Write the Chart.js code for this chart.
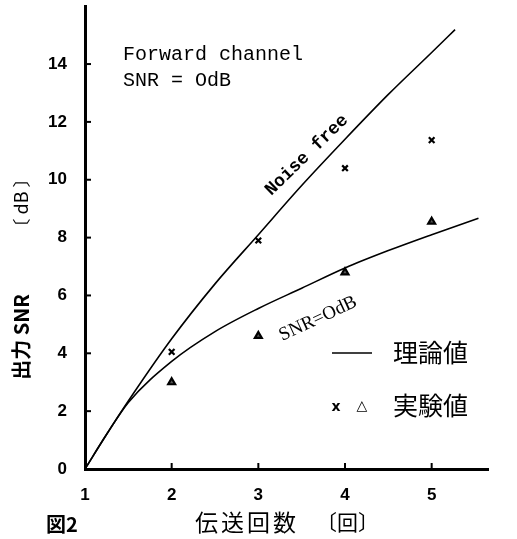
<!DOCTYPE html>
<html lang="ja">
<head>
<meta charset="UTF-8">
<title>出力 SNR vs 伝送回数</title>
<script src="https://cdn.jsdelivr.net/npm/chart.js"></script>
<style>
    * { margin: 0; padding: 0; box-sizing: border-box; }
    body { background: #fff; width: 517px; height: 539px; overflow: hidden; }
    canvas { display: block; }
</style>
</head>
<body>
<canvas id="snrChart" width="517" height="539"></canvas>
<script>
    // tick labels
    const xTicks = [1, 2, 3, 4, 5];
    const yTicks = [0, 2, 4, 6, 8, 10, 12, 14];

    // theoretical curves
    const noiseFreeX = [1, 1.25, 1.5, 2, 2.5, 3, 3.5, 4, 4.5, 5, 5.27];
    const noiseFreeY = [0, 1.2, 2.35, 4.5, 6.4, 8.1, 9.8, 11.4, 12.95, 14.4, 15.19];
    const snr0X = [1, 1.25, 1.5, 2, 2.5, 3, 3.5, 4, 4.5, 5, 5.54];
    const snr0Y = [0, 1.2, 2.3, 3.72, 4.75, 5.55, 6.25, 6.95, 7.55, 8.1, 8.67];

    // measured values
    const measX = [2, 3, 4, 5];
    const crossY = [4.05, 7.9, 10.4, 11.37];
    const triY = [3.0, 4.6, 6.8, 8.55];

    const pts = (xs, ys) => xs.map((x, i) => ({ x: x, y: ys[i] }));

    // inner tick marks + all the free text of the figure
    const decor = {
        id: 'decor',
        afterDraw(chart) {
            const ctx = chart.ctx;
            const xs = chart.scales.x, ys = chart.scales.y;
            const area = chart.chartArea;
            ctx.save();
            ctx.strokeStyle = '#000';
            ctx.lineWidth = 2;
            yTicks.forEach(v => {
                if (v === 0) return;
                const py = ys.getPixelForValue(v);
                ctx.beginPath(); ctx.moveTo(area.left, py); ctx.lineTo(area.left + 6, py); ctx.stroke();
            });
            xTicks.forEach(v => {
                if (v === 1) return;
                const px = xs.getPixelForValue(v);
                ctx.beginPath(); ctx.moveTo(px, area.bottom); ctx.lineTo(px, area.bottom - 6); ctx.stroke();
            });

            ctx.fillStyle = '#000';
            ctx.textBaseline = 'middle';

            // header note
            ctx.font = '20px "Courier New", "Liberation Mono", monospace';
            ctx.textAlign = 'left';
            ctx.fillText('Forward channel', 123, 55);
            ctx.fillText('SNR = OdB', 123, 81);

            // curve labels
            ctx.save();
            ctx.translate(xs.getPixelForValue(3.56), ys.getPixelForValue(10.85));
            ctx.rotate(-44 * Math.PI / 180);
            ctx.textAlign = 'center';
            ctx.font = 'bold 18px "Courier New", "Liberation Mono", monospace';
            ctx.fillText('Noise free', 0, 0);
            ctx.restore();

            ctx.save();
            ctx.translate(xs.getPixelForValue(3.69), ys.getPixelForValue(5.19));
            ctx.rotate(-25 * Math.PI / 180);
            ctx.textAlign = 'center';
            ctx.font = '19px "Liberation Serif", serif';
            ctx.fillText('SNR=OdB', 0, 0);
            ctx.restore();

            // legend
            ctx.lineWidth = 1.5;
            ctx.beginPath(); ctx.moveTo(332, 353); ctx.lineTo(372, 353); ctx.stroke();
            ctx.font = '25px "Noto Sans CJK JP", sans-serif';
            ctx.textAlign = 'left';
            ctx.fillText('理論値', 393, 352);
            ctx.fillText('実験値', 393, 405);
            ctx.font = 'bold 14px "DejaVu Sans", sans-serif';
            ctx.textAlign = 'center';
            ctx.fillText('x', 336, 407);
            ctx.fillText('△', 362, 406);

            // y axis title
            ctx.save();
            ctx.translate(21, 337);
            ctx.rotate(-Math.PI / 2);
            ctx.font = 'bold 20px "Noto Sans CJK JP", sans-serif';
            ctx.fillText('出力 SNR', 0, 0);
            ctx.restore();
            ctx.save();
            ctx.translate(21, 203);
            ctx.rotate(-Math.PI / 2);
            ctx.font = '18px "Noto Sans CJK JP", sans-serif';
            ctx.fillText('〔 dB 〕', 0, 0);
            ctx.restore();

            // x axis title and figure number
            ctx.font = '23px "Noto Sans CJK JP", sans-serif';
            ctx.textAlign = 'left';
            ctx.letterSpacing = '3px';
            ctx.fillText('伝送回数', 195, 522);
            ctx.letterSpacing = '0px';
            ctx.font = '21px "Noto Sans CJK JP", sans-serif';
            ctx.fillText('〔回〕', 316, 522);
            ctx.font = 'bold 20px "Noto Sans CJK JP", sans-serif';
            ctx.fillText('図2', 46, 524);
            ctx.restore();
        }
    };

    new Chart(document.getElementById('snrChart'), {
        type: 'scatter',
        data: {
            datasets: [
                {
                    label: 'Noise free',
                    data: pts(noiseFreeX, noiseFreeY),
                    showLine: true,
                    cubicInterpolationMode: 'monotone',
                    borderColor: '#000',
                    borderWidth: 1.6,
                    pointRadius: 0
                },
                {
                    label: 'SNR=OdB',
                    data: pts(snr0X, snr0Y),
                    showLine: true,
                    cubicInterpolationMode: 'monotone',
                    borderColor: '#000',
                    borderWidth: 1.6,
                    pointRadius: 0
                },
                {
                    label: '実験値 x',
                    data: pts(measX, crossY),
                    pointStyle: 'crossRot',
                    pointRadius: 4,
                    borderWidth: 2.2,
                    borderColor: '#000'
                },
                {
                    label: '実験値 △',
                    data: pts(measX, triY),
                    pointStyle: 'triangle',
                    pointRadius: 4,
                    borderWidth: 2.2,
                    borderColor: '#000',
                    backgroundColor: '#555'
                }
            ]
        },
        options: {
            responsive: false,
            animation: false,
            layout: { padding: { left: 0, right: 29, top: 0, bottom: 0 } },
            plugins: {
                legend: { display: false },
                tooltip: { enabled: false }
            },
            scales: {
                x: {
                    type: 'linear',
                    min: 1,
                    max: 5.65,
                    afterBuildTicks: s => { s.ticks = xTicks.map(v => ({ value: v })); },
                    afterFit: s => { s.height = 70; s.paddingLeft = 0; s.paddingRight = 0; },
                    grid: { display: false, drawTicks: false },
                    border: { display: true, color: '#000', width: 3 },
                    ticks: {
                        padding: 16,
                        color: '#000',
                        font: { family: '"Liberation Sans", Arial, sans-serif', size: 17, weight: 'bold' }
                    }
                },
                y: {
                    type: 'linear',
                    min: 0,
                    max: 16,
                    afterBuildTicks: s => { s.ticks = yTicks.map(v => ({ value: v })); },
                    afterFit: s => { s.width = 85; s.paddingTop = 0; s.paddingBottom = 0; },
                    grid: { display: false, drawTicks: false },
                    border: { display: true, color: '#000', width: 3 },
                    ticks: {
                        padding: 18,
                        color: '#000',
                        font: { family: '"Liberation Sans", Arial, sans-serif', size: 17, weight: 'bold' }
                    }
                }
            }
        },
        plugins: [decor]
    });
</script>
</body>
</html>
